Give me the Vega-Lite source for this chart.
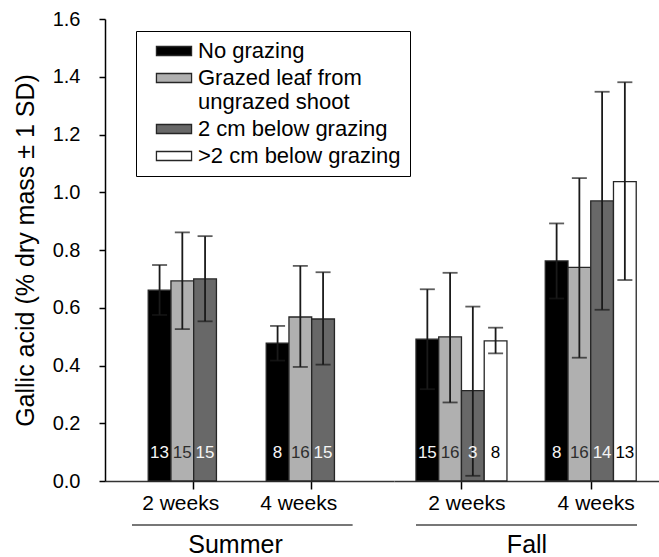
{
  "$schema": "https://vega.github.io/schema/vega-lite/v6.json",
  "padding": {"left": 13, "top": 9, "right": 0, "bottom": 0},
  "spacing": 0,
  "config": {
    "font": "Liberation Sans",
    "view": {"stroke": null},
    "concat": {"spacing": 0},
    "axis": {"grid": false, "labelColor": "#000", "titleColor": "#000", "titleFontWeight": "normal", "tickColor": "#000", "domainColor": "#000", "domainWidth": 1.5, "tickWidth": 1.5}
  },
  "datasets": {
    "d": [
      {"season": "Summer", "period": "2 weeks", "treatment": "No grazing", "mean": 0.661, "lo": 0.575, "hi": 0.748, "n": 13},
      {"season": "Summer", "period": "2 weeks", "treatment": "Grazed leaf from ungrazed shoot", "mean": 0.693, "lo": 0.526, "hi": 0.861, "n": 15},
      {"season": "Summer", "period": "2 weeks", "treatment": "2 cm below grazing", "mean": 0.700, "lo": 0.553, "hi": 0.848, "n": 15},
      {"season": "Summer", "period": "4 weeks", "treatment": "No grazing", "mean": 0.477, "lo": 0.417, "hi": 0.537, "n": 8},
      {"season": "Summer", "period": "4 weeks", "treatment": "Grazed leaf from ungrazed shoot", "mean": 0.568, "lo": 0.395, "hi": 0.745, "n": 16},
      {"season": "Summer", "period": "4 weeks", "treatment": "2 cm below grazing", "mean": 0.561, "lo": 0.403, "hi": 0.723, "n": 15},
      {"season": "Fall", "period": "2 weeks", "treatment": "No grazing", "mean": 0.491, "lo": 0.318, "hi": 0.664, "n": 15},
      {"season": "Fall", "period": "2 weeks", "treatment": "Grazed leaf from ungrazed shoot", "mean": 0.499, "lo": 0.272, "hi": 0.721, "n": 16},
      {"season": "Fall", "period": "2 weeks", "treatment": "2 cm below grazing", "mean": 0.313, "lo": 0.018, "hi": 0.604, "n": 3},
      {"season": "Fall", "period": "2 weeks", "treatment": ">2 cm below grazing", "mean": 0.485, "lo": 0.442, "hi": 0.531, "n": 8},
      {"season": "Fall", "period": "4 weeks", "treatment": "No grazing", "mean": 0.762, "lo": 0.632, "hi": 0.892, "n": 8},
      {"season": "Fall", "period": "4 weeks", "treatment": "Grazed leaf from ungrazed shoot", "mean": 0.740, "lo": 0.427, "hi": 1.049, "n": 16},
      {"season": "Fall", "period": "4 weeks", "treatment": "2 cm below grazing", "mean": 0.970, "lo": 0.593, "hi": 1.348, "n": 14},
      {"season": "Fall", "period": "4 weeks", "treatment": ">2 cm below grazing", "mean": 1.037, "lo": 0.696, "hi": 1.381, "n": 13}
    ]
  },
  "hconcat": [
    {
      "width": 289,
      "height": 462,
      "data": {"name": "d"},
      "transform": [{"filter": "datum.season == 'Summer'"}],
      "encoding": {
        "x": {"field": "period", "type": "nominal", "scale": {"domain": ["2 weeks", "4 weeks"], "paddingInner": 0.229, "paddingOuter": 0.339, "align": 0.54},
          "axis": {"title": "Summer", "titleFontSize": 25, "titlePadding": 19, "titleX": 130, "labelFontSize": 21, "labelAngle": 0, "tickSize": 8, "labelPadding": 3, "labelOffset": -13, "domainColor": "#333"}},
        "xOffset": {"field": "treatment", "type": "nominal", "scale": {"domain": ["No grazing", "Grazed leaf from ungrazed shoot", "2 cm below grazing", ">2 cm below grazing"], "paddingInner": 0, "paddingOuter": 0}}
      },
      "layer": [
        {
          "mark": {"type": "bar", "stroke": "#262626", "strokeWidth": 1.3},
          "encoding": {
            "y": {"field": "mean", "type": "quantitative", "scale": {"domain": [0, 1.6], "nice": false},
              "axis": {"title": "Gallic acid (% dry mass ± 1 SD)", "titleFontSize": 25, "titlePadding": 14, "labelFontSize": 20, "labelPadding": 19, "tickSize": 6, "values": [0, 0.2, 0.4, 0.6, 0.8, 1.0, 1.2, 1.4, 1.6], "format": ".1f"}},
            "color": {"field": "treatment", "type": "nominal",
              "scale": {"domain": ["No grazing", "Grazed leaf from ungrazed shoot", "2 cm below grazing", ">2 cm below grazing"], "range": ["#000000", "#b0b0b0", "#686868", "#ffffff"]},
              "legend": {"orient": "none", "legendX": 31, "legendY": 12, "title": null, "strokeColor": "#000", "fillColor": "#fff", "padding": 9, "symbolType": "M-3.9,-1H3.9V1H-3.9Z", "symbolSize": 81, "symbolStrokeColor": "#262626", "symbolStrokeWidth": 1.3, "labelFontSize": 22, "labelOffset": 13, "symbolOffset": 18, "rowPadding": 5, "labelColor": "#000", "labelLimit": 400,
                "labelExpr": "datum.label == 'Grazed leaf from ungrazed shoot' ? ['Grazed leaf from', 'ungrazed shoot'] : datum.label"}}
          }
        },
        {
          "mark": {"type": "rule", "color": "#1a1a1a", "strokeWidth": 1.8},
          "encoding": {"y": {"field": "lo", "type": "quantitative"}, "y2": {"field": "hi"}}
        },
        {
          "mark": {"type": "tick", "orient": "horizontal", "size": 15, "thickness": 1.8, "color": "#1a1a1a"},
          "encoding": {"y": {"field": "hi", "type": "quantitative"}}
        },
        {
          "mark": {"type": "tick", "orient": "horizontal", "size": 15, "thickness": 1.8, "color": "#1a1a1a"},
          "encoding": {"y": {"field": "lo", "type": "quantitative"}}
        },
        {
          "mark": {"type": "text", "fontSize": 17, "baseline": "alphabetic", "align": "center"},
          "encoding": {
            "y": {"datum": 0.08},
            "text": {"field": "n", "type": "nominal"},
            "color": {"condition": [
              {"test": "datum.treatment == '>2 cm below grazing'", "value": "#000"},
              {"test": "datum.treatment == 'Grazed leaf from ungrazed shoot'", "value": "#2e2e2e"}
            ], "value": "#f5f5f5"}
          }
        },
        {
          "mark": {"type": "rule", "color": "#777", "strokeWidth": 1.5},
          "encoding": {
            "x": {"datum": "2 weeks", "bandPosition": -0.176},
            "x2": {"datum": "4 weeks", "bandPosition": 0.945},
            "y": {"datum": -0.152},
            "xOffset": null
          }
        }
      ]
    },
    {
      "width": 265,
      "height": 462,
      "data": {"name": "d"},
      "transform": [{"filter": "datum.season == 'Fall'"}],
      "encoding": {
        "x": {"field": "period", "type": "nominal", "scale": {"domain": ["2 weeks", "4 weeks"], "paddingInner": 0.29, "paddingOuter": 0.17},
          "axis": {"title": "Fall", "titleFontSize": 25, "titlePadding": 19, "labelFontSize": 21, "labelAngle": 0, "tickSize": 8, "labelPadding": 3, "labelOffset": 5, "domainColor": "#333"}},
        "xOffset": {"field": "treatment", "type": "nominal", "scale": {"domain": ["No grazing", "Grazed leaf from ungrazed shoot", "2 cm below grazing", ">2 cm below grazing"], "paddingInner": 0, "paddingOuter": 0}}
      },
      "layer": [
        {
          "mark": {"type": "bar", "stroke": "#262626", "strokeWidth": 1.3},
          "encoding": {
            "y": {"field": "mean", "type": "quantitative", "scale": {"domain": [0, 1.6], "nice": false}, "axis": null},
            "color": {"field": "treatment", "type": "nominal",
              "scale": {"domain": ["No grazing", "Grazed leaf from ungrazed shoot", "2 cm below grazing", ">2 cm below grazing"], "range": ["#000000", "#b0b0b0", "#686868", "#ffffff"]},
              "legend": null}
          }
        },
        {
          "mark": {"type": "rule", "color": "#1a1a1a", "strokeWidth": 1.8},
          "encoding": {"y": {"field": "lo", "type": "quantitative"}, "y2": {"field": "hi"}}
        },
        {
          "mark": {"type": "tick", "orient": "horizontal", "size": 15, "thickness": 1.8, "color": "#1a1a1a"},
          "encoding": {"y": {"field": "hi", "type": "quantitative"}}
        },
        {
          "mark": {"type": "tick", "orient": "horizontal", "size": 15, "thickness": 1.8, "color": "#1a1a1a"},
          "encoding": {"y": {"field": "lo", "type": "quantitative"}}
        },
        {
          "mark": {"type": "text", "fontSize": 17, "baseline": "alphabetic", "align": "center"},
          "encoding": {
            "y": {"datum": 0.08},
            "text": {"field": "n", "type": "nominal"},
            "color": {"condition": [
              {"test": "datum.treatment == '>2 cm below grazing'", "value": "#000"},
              {"test": "datum.treatment == 'Grazed leaf from ungrazed shoot'", "value": "#2e2e2e"}
            ], "value": "#f5f5f5"}
          }
        },
        {
          "mark": {"type": "rule", "color": "#777", "strokeWidth": 1.5},
          "encoding": {
            "x": {"datum": "2 weeks", "bandPosition": 0},
            "x2": {"datum": "4 weeks", "bandPosition": 1},
            "y": {"datum": -0.152},
            "xOffset": null
          }
        }
      ]
    }
  ]
}
